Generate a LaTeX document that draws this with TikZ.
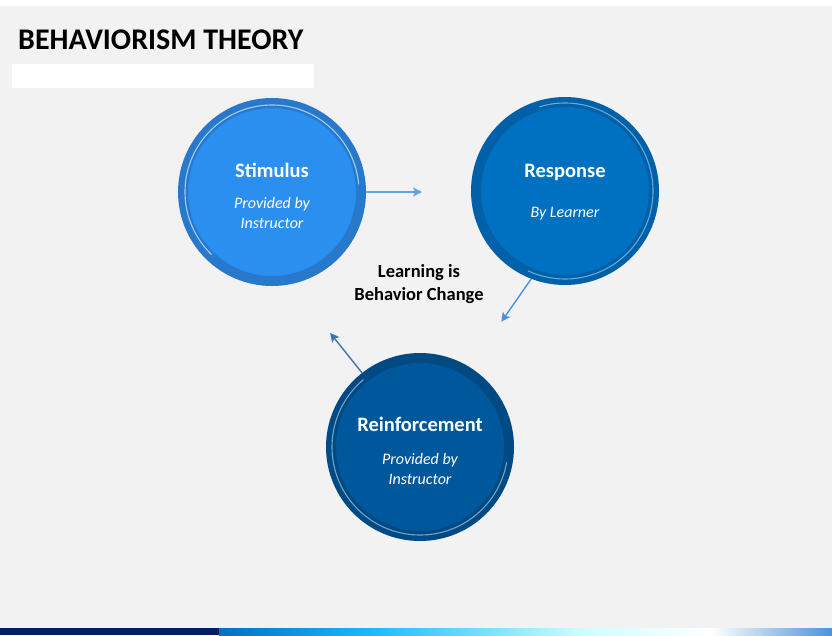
\documentclass[tikz,border=0pt]{standalone}
\usepackage{fontspec}
\setmainfont{Carlito}
\usetikzlibrary{positioning,arrows.meta}

\definecolor{slidebg}{HTML}{F2F2F2}
\definecolor{navybar}{HTML}{002060}
\definecolor{stimfill}{HTML}{2B8FF0}
\definecolor{stimring}{HTML}{2878CC}
\definecolor{respfill}{HTML}{0070C0}
\definecolor{respring}{HTML}{0060A8}
\definecolor{reinffill}{HTML}{00589C}
\definecolor{reinfring}{HTML}{004A84}
\definecolor{flowblue}{HTML}{4A92DA}

\tikzset{
  stagecircle/.style={circle, minimum size=178pt, inner sep=0pt, line width=10pt},
  stagetext/.style={text=white, align=center, inner sep=0pt, font=\fontsize{16}{20}\selectfont},
  ringarc/.style={line width=1.1pt},
  flowarrow/.style={draw=flowblue, line width=1.4pt, -{Stealth[length=9pt,width=9pt,inset=2pt]}},
}
\newcommand{\stagename}[1]{{\fontsize{20.5}{22}\selectfont\bfseries #1}}

\begin{document}
\begin{tikzpicture}[x=1pt,y=-1pt]
  \useasboundingbox (0,0) rectangle (832,635);
  \fill[slidebg] (0,0) rectangle (832,635);
  \fill[white] (0,0) rectangle (832,6);

  % title and empty subtitle box
  \node[anchor=base west, inner sep=0pt, font=\fontsize{30}{32}\selectfont\bfseries] (title)
    at (18,49) {BEHAVIORISM THEORY};
  \fill[white] (12,64) rectangle (314,88);

  % the three stages
  \node[stagecircle, fill=stimfill, draw=stimring] (stim) at (272,192) {};
  \node[stagecircle, fill=respfill, draw=respring] (resp) at (565,191) {};
  \node[stagecircle, fill=reinffill, draw=reinfring] (reinf) at (420,447) {};

  \node[stagetext] (stimText) at ([yshift=-4pt]stim.center)
    {\stagename{Stimulus}\\[11pt]
     \itshape Provided by\\ \itshape Instructor};
  \node[stagetext] (respText) at ([yshift=-1pt]resp.center)
    {\stagename{Response}\\[20pt]
     \itshape By Learner};
  \node[stagetext] (reinfText) at ([yshift=-4pt]reinf.center)
    {\stagename{Reinforcement}\\[13pt]
     \itshape Provided by\\ \itshape Instructor};

  % thin highlight inside the rings
  \draw[ringarc, draw=stimfill!45!white] ([shift={(5:87pt)}]stim.center)
    arc[start angle=5, end angle=226, radius=87pt];
  \draw[ringarc, draw=respfill!60!white] ([shift={(107:88pt)}]resp.center)
    arc[start angle=107, end angle=-115, radius=88pt];
  \draw[ringarc, draw=reinffill!55!white] ([shift={(130:88pt)}]reinf.center)
    arc[start angle=130, end angle=350, radius=88pt];

  \node[font=\fontsize{18.5}{23}\selectfont\bfseries, align=center] (centre)
    at (419,284) {Learning is\\Behavior Change};

  % flow arrows
  \coordinate[right=56pt of stim.east] (stimEnd);
  \coordinate[below left=43pt and 30pt of resp.249] (respEnd);
  \coordinate[above left=40pt and 32pt of reinf.128] (reinfEnd);
  \draw[flowarrow, draw=flowblue!85!white] (stim.east) -- (stimEnd);
  \draw[flowarrow] (resp.249) -- (respEnd);
  \draw[flowarrow, draw=flowblue!80!black] (reinf.128) -- (reinfEnd);

  % bottom colour bar
  \fill[navybar] (0,628) rectangle (219,635);
  \shade[left color=respfill, right color=cyan!70!blue!90!white] (219,628) rectangle (371,635);
  \shade[left color=cyan!70!blue!90!white, right color=cyan!20!white] (371,628) rectangle (583,635);
  \shade[left color=cyan!20!white, right color=white] (583,628) rectangle (711,635);
  \shade[left color=white, right color=flowblue] (711,628) rectangle (832,635);
\end{tikzpicture}
\end{document}
